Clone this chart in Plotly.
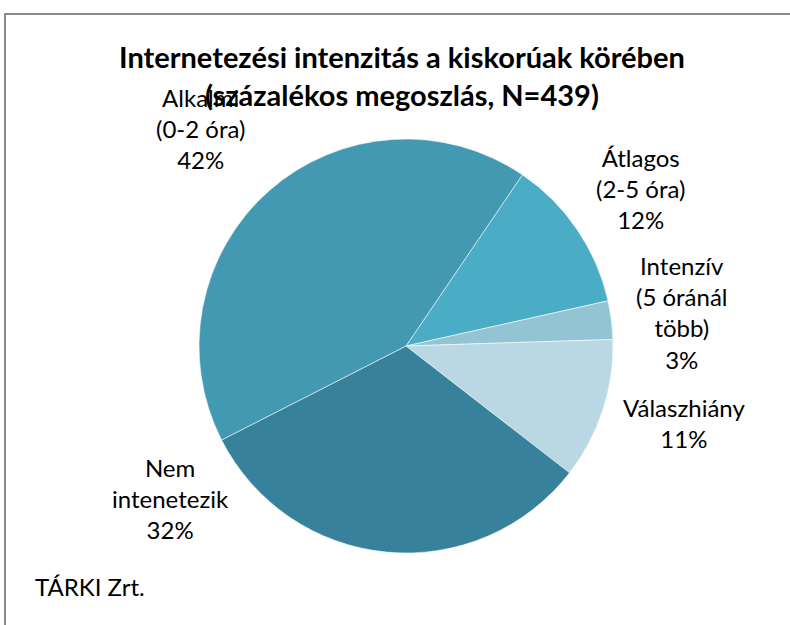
import plotly.graph_objects as go

categories = ["Átlagos (2-5 óra)", "Intenzív (5 óránál több)", "Válaszhiány",
              "Nem intenetezik", "Alkalmi (0-2 óra)"]
label_lines = ["Átlagos<br>(2-5 óra)", "Intenzív<br>(5 óránál<br>több)", "Válaszhiány",
               "Nem<br>intenetezik", "Alkalmi<br>(0-2 óra)"]
values = [12, 3, 11, 32, 42]
colors = ["#4BACC6", "#93C4D4", "#B9D8E3", "#37829A", "#4399B1"]

# label centre x and first-line centre y, in pixels
label_pos = [(640, 160), (682, 268), (684, 410), (170, 470), (200, 100)]

W, H = 790, 625
cx, cy, r = 406, 346, 207
FS = 24

fig = go.Figure(go.Pie(
    labels=categories,
    values=values,
    sort=False,
    direction="clockwise",
    rotation=34.2,
    marker=dict(colors=colors, line=dict(color="rgba(255,255,255,0.55)", width=1)),
    textinfo="none",
    hoverinfo="label+percent",
    showlegend=False,
    domain=dict(x=[(cx - r) / W, (cx + r) / W], y=[1 - (cy + r) / H, 1 - (cy - r) / H]),
))

font_name = "Lato"
annotations = []
for txt, v, (x, y) in zip(label_lines, values, label_pos):
    annotations.append(dict(
        text=f"{txt}<br>{v}%", x=x / W, y=1 - (y - 0.78 * FS) / H, xref="paper", yref="paper",
        xanchor="center", yanchor="top", showarrow=False, align="center",
        font=dict(family=font_name, size=FS, color="#000000"),
    ))
annotations.append(dict(
    text="<b>Internetezési intenzitás a kiskorúak körében<br>(százalékos megoszlás, N=439)</b>",
    x=402 / W, y=1 - 75 / H, xref="paper", yref="paper", xanchor="center", yanchor="middle",
    showarrow=False, align="center", font=dict(family=font_name, size=29, color="#000000"),
))
annotations.append(dict(
    text="TÁRKI Zrt.", x=33 / W, y=1 - 586 / H, xref="paper", yref="paper",
    xanchor="left", yanchor="middle", showarrow=False,
    font=dict(family=font_name, size=FS, color="#000000"),
))

fig.update_layout(
    width=W, height=H,
    margin=dict(l=0, r=0, t=0, b=0),
    paper_bgcolor="white", plot_bgcolor="white",
    annotations=annotations,
    shapes=[dict(type="rect", xref="paper", yref="paper",
                 x0=5 / W, x1=1.05, y0=-0.05, y1=1 - 14 / H,
                 line=dict(color="#898989", width=2), fillcolor="rgba(0,0,0,0)")],
)

fig.write_html("out.html", config={"displayModeBar": False},
               post_script="document.body.style.margin='0';document.body.style.overflow='hidden';")
